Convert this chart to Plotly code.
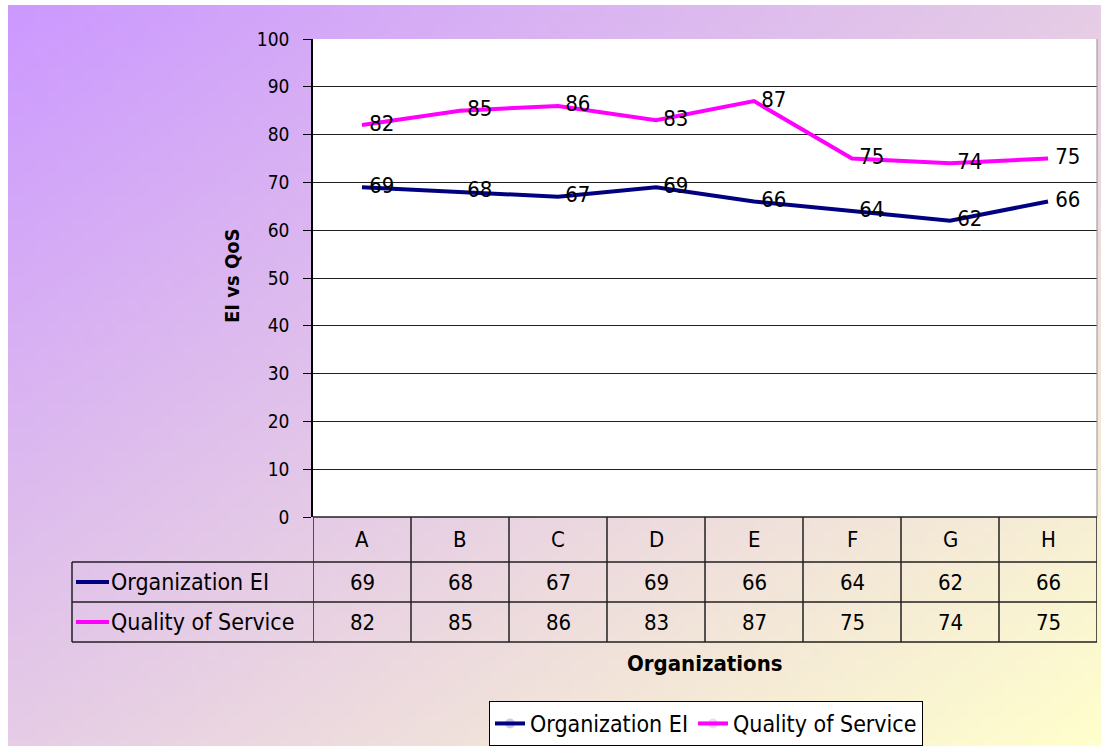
import base64, struct, zlib
import plotly.graph_objects as go

# ---------------- data ----------------
categories = ["A", "B", "C", "D", "E", "F", "G", "H"]
ei_values = [69, 68, 67, 69, 66, 64, 62, 66]
qos_values = [82, 85, 86, 83, 87, 75, 74, 75]
series_names = ["Organization EI", "Quality of Service"]
series_colors = ["#000080", "#ff00ff"]
y_ticks = [0, 10, 20, 30, 40, 50, 60, 70, 80, 90, 100]

W, H = 1101, 746
FONT = "DejaVu Sans Condensed, DejaVu Sans, sans-serif"
TXT = 23


def px(x):
    return x / W


def py(y):
    return 1 - y / H


# ---------------- gradient background as PNG ----------------
def gradient_png(w, h, c0, c1):
    rows = []
    for j in range(h):
        row = bytearray(b"\x00")
        for i in range(w):
            t = (i / (w - 1) + j / (h - 1)) / 2
            row += bytes(int(round(c0[k] + (c1[k] - c0[k]) * t)) for k in range(3))
        rows.append(bytes(row))
    raw = b"".join(rows)

    def chunk(tag, data):
        c = struct.pack(">I", len(data)) + tag + data
        return c + struct.pack(">I", zlib.crc32(tag + data) & 0xFFFFFFFF)

    png = b"\x89PNG\r\n\x1a\n"
    png += chunk(b"IHDR", struct.pack(">IIBBBBB", w, h, 8, 2, 0, 0, 0))
    png += chunk(b"IDAT", zlib.compress(raw, 9))
    png += chunk(b"IEND", b"")
    return "data:image/png;base64," + base64.b64encode(png).decode()


bg_uri = gradient_png(96, 64, (204, 153, 255), (255, 255, 204))

# ---------------- figure ----------------
fig = go.Figure()
for name, vals, col in zip(series_names, [ei_values, qos_values], series_colors):
    fig.add_trace(go.Scatter(
        x=categories, y=vals, name=name, mode="lines+markers+text",
        line=dict(color=col, width=4),
        marker=dict(size=10, opacity=0, color=col),
        text=[str(v) for v in vals], textposition="middle right",
        textfont=dict(family=FONT, size=22, color="black"),
        cliponaxis=False,
    ))

x_left, x_right = 313, 1097
y_top, y_bot = 39, 517
row_y = [517, 562, 602, 642]
LINE = "#202020"

shapes = []
shapes.append(dict(type="rect", xref="x domain", yref="y domain", x0=0, x1=1, y0=0, y1=1,
                   fillcolor="white", line=dict(width=0), layer="below"))
shapes.append(dict(type="line", xref="x domain", yref="y domain", x0=1, x1=1, y0=0, y1=1,
                   line=dict(color="#909090", width=1)))
shapes.append(dict(type="line", xref="paper", yref="paper", x0=px(x_left), x1=px(x_right),
                   y0=py(row_y[0]), y1=py(row_y[0]), line=dict(color=LINE, width=1.5)))
for ry in row_y[1:]:
    shapes.append(dict(type="line", xref="paper", yref="paper", x0=px(72), x1=px(x_right),
                       y0=py(ry), y1=py(ry), line=dict(color=LINE, width=1.5)))
for i in range(len(categories) + 1):
    shapes.append(dict(type="line", xref="x", yref="paper", x0=i - 0.5, x1=i - 0.5,
                       y0=py(row_y[0]), y1=py(row_y[3]), line=dict(color=LINE, width=1.5)))
shapes.append(dict(type="line", xref="paper", yref="paper", x0=px(72), x1=px(72),
                   y0=py(row_y[1]), y1=py(row_y[3]), line=dict(color=LINE, width=1.5)))


def label(x, y, text, xref="paper", size=TXT, xanchor="center", **kw):
    return dict(x=x, xref=xref, y=y, yref="paper", text=text, showarrow=False,
                xanchor=xanchor, yanchor="middle",
                font=dict(family=FONT, size=size, color="black"), **kw)


annotations = []
for c in categories:
    annotations.append(label(c, py((row_y[0] + row_y[1]) / 2), c, xref="x", size=22))
for r, (name, vals, col) in enumerate(zip(series_names, [ei_values, qos_values], series_colors)):
    yc = (row_y[r + 1] + row_y[r + 2]) / 2
    for c, v in zip(categories, vals):
        annotations.append(label(c, py(yc), str(v), xref="x", size=22))
    shapes.append(dict(type="line", xref="paper", yref="paper", x0=px(76), x1=px(109),
                       y0=py(yc), y1=py(yc), line=dict(color=col, width=4)))
    annotations.append(label(px(109), py(yc), name, xanchor="left"))

annotations.append(label(px(705), py(663), "<b>Organizations</b>", size=22))
annotations.append(label(px(232), py(276), "<b>EI vs QoS</b>", size=20, textangle=-90))

fig.update_layout(
    width=W, height=H,
    autosize=False,
    margin=dict(l=0, r=0, t=0, b=0, pad=0, autoexpand=False),
    paper_bgcolor="white",
    plot_bgcolor="rgba(0,0,0,0)",
    font=dict(family=FONT, size=TXT, color="black"),
    images=[dict(source=bg_uri, xref="paper", yref="paper", x=px(8), y=py(5),
                 sizex=(W - 8) / W, sizey=(H - 5) / H, sizing="stretch",
                 xanchor="left", yanchor="top", layer="below")],
    xaxis=dict(domain=[px(x_left), px(x_right)], range=[-0.5, 7.5], showticklabels=False,
               showgrid=False, zeroline=False, showline=False, ticks="", automargin=False),
    yaxis=dict(domain=[py(y_bot), py(y_top)], range=[0, 100], tickvals=y_ticks,
               showgrid=True, gridcolor=LINE, gridwidth=1, zeroline=False,
               showline=True, linecolor="black", linewidth=1.5, ticks="outside",
               ticklen=8, tickcolor="black", ticklabelstandoff=10, automargin=False,
               tickfont=dict(family=FONT, size=19, color="black")),
    showlegend=True,
    legend=dict(orientation="h", xref="container", yref="container",
                x=px(706), xanchor="center", y=py(746), yanchor="bottom",
                bgcolor="white", bordercolor="black", borderwidth=1,
                font=dict(family=FONT, size=TXT, color="black"), itemwidth=30,
                tracegroupgap=0),
    shapes=shapes,
    annotations=annotations,
)

fig.write_html("out.html", config={"responsive": False, "displayModeBar": False},
               post_script="document.body.style.margin='0';document.body.style.overflow='hidden';")
